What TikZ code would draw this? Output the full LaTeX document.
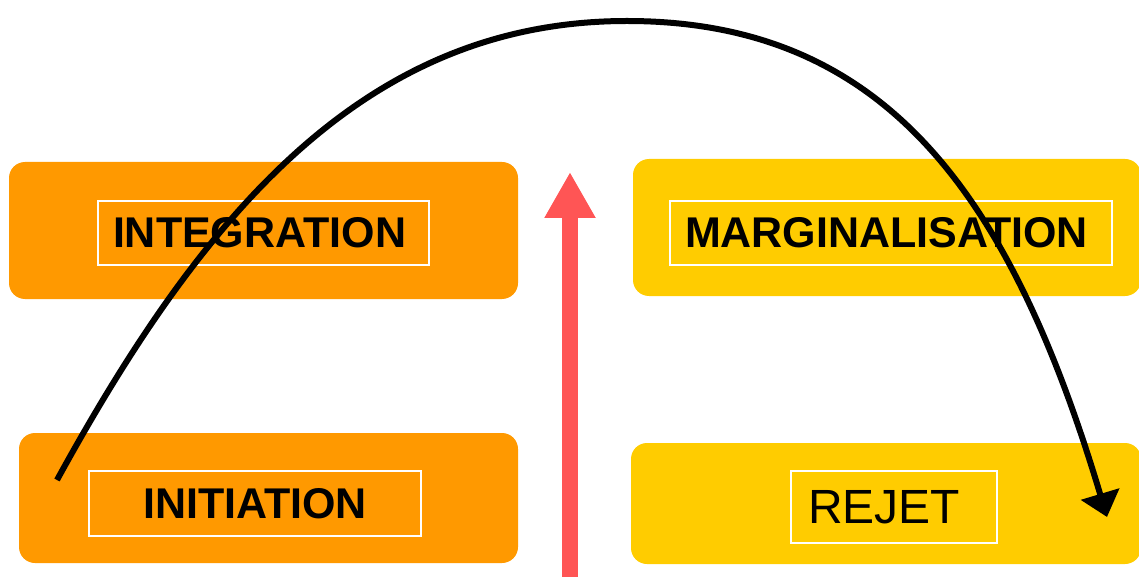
\documentclass[tikz,border=0pt]{standalone}
\usepackage{fontspec}
\setmainfont{Liberation Sans}
\usetikzlibrary{arrows.meta}
\definecolor{boxorange}{HTML}{FF9900}
\definecolor{boxyellow}{HTML}{FFCC00}
\definecolor{risered}{HTML}{FF5555}
\tikzset{
  stagebox/.style = {rounded corners = 16pt, inner sep = 0pt},
  labelframe/.style = {draw = white, line width = 1.5pt, inner sep = 0pt, font = \fontsize{43}{50}\selectfont\bfseries},
}
\begin{document}
\begin{tikzpicture}[x=1pt,y=-1pt]
\useasboundingbox (0,0) rectangle (1139,577);
\node[stagebox, fill = boxorange, minimum width = 509pt, minimum height = 137pt] (integration) at (263.5,230.5) {};
\node[stagebox, fill = boxorange, minimum width = 499pt, minimum height = 130pt] (initiation) at (268.5,498) {};
\node[stagebox, fill = boxyellow, minimum width = 508pt, minimum height = 137pt] (marginal) at (887,227.5) {};
\node[stagebox, fill = boxyellow, minimum width = 510pt, minimum height = 121pt] (rejet) at (886,503.5) {};
\node[labelframe, inner xsep = 15pt, text width = 301pt, align = left, minimum height = 64pt] (integrationtxt) at (263.5,233) {INTEGRATION};
\node[labelframe, minimum width = 332pt, minimum height = 65pt] (initiationtxt) at (255,503.5) {INITIATION};
\node[labelframe, inner xsep = 15pt, text width = 412pt, align = left, minimum height = 64pt] (marginaltxt) at (891,233) {MARGINALISATION};
\node[labelframe, font = \fontsize{48}{56}\selectfont, inner xsep = 17pt, text width = 172pt, align = left, minimum height = 72pt] (rejettxt) at (894,507) {REJET};
\coordinate (risebase) at (570,577);
\coordinate (risetip) at (570,172);
\draw[risered, line width = 16pt, -{Triangle[length = 46pt, width = 48pt]}] (risebase) -- (risetip);
\coordinate (arcstart) at (57,480);
\coordinate (arctop) at (627,21);
\coordinate (arcend) at (1107,517);
\draw[line width = 6pt, -{Triangle[length = 24pt, width = 39pt]}] (arcstart) .. controls (205,210) and (367,21) .. (arctop) .. controls (887,21) and (1011,197) .. (arcend);
\end{tikzpicture}
\end{document}
